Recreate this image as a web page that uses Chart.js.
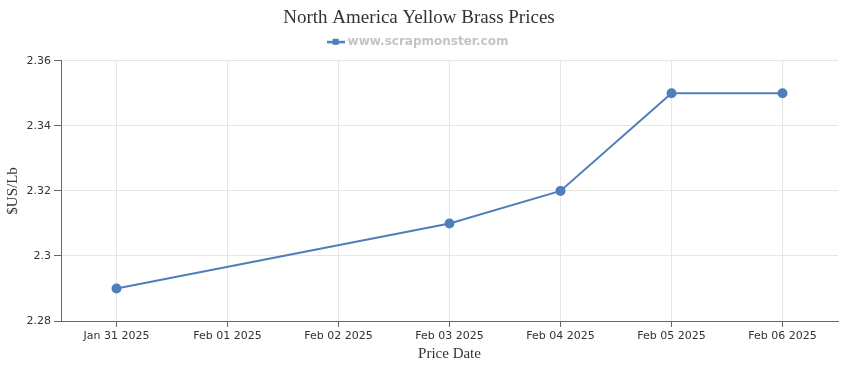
<!DOCTYPE html>
<html>
<head>
<meta charset="utf-8">
<script src="https://cdn.jsdelivr.net/npm/chart.js@4"></script>
<style>
  body { margin: 0; background: #fff; }
  #wrap { width: 850px; height: 370px; }
</style>
</head>
<body>
<div id="wrap"><canvas id="brassChart" width="850" height="370"></canvas></div>
<script>
// price dates and values ($US/Lb); null = no quote that day
const dates = ['Jan 31 2025', 'Feb 01 2025', 'Feb 02 2025', 'Feb 03 2025', 'Feb 04 2025', 'Feb 05 2025', 'Feb 06 2025'];
const prices = [2.29, null, null, 2.31, 2.32, 2.35, 2.35];
const yTicks = [2.28, 2.30, 2.32, 2.34, 2.36];

const lineColor = '#4f7fbb';

// legend marker: short line with a square in the middle
const marker = document.createElement('canvas');
marker.width = 18; marker.height = 8;
const mctx = marker.getContext('2d');
mctx.fillStyle = lineColor;
mctx.fillRect(0, 3, 18, 2.5);
mctx.fillRect(6, 1, 6, 6);

// a bit of extra space under the legend
const legendGap = {
    id: 'legendGap',
    beforeInit(chart) {
        const fit = chart.legend.fit;
        chart.legend.fit = function () { fit.call(this); this.height += 3; };
    }
};

const ctx = document.getElementById('brassChart').getContext('2d');
new Chart(ctx, {
    type: 'line',
    data: {
        labels: dates,
        datasets: [{
            label: 'www.scrapmonster.com',
            data: prices,
            borderColor: lineColor,
            backgroundColor: lineColor,
            borderWidth: 2,
            pointRadius: 4,
            pointHoverRadius: 5,
            tension: 0,
            spanGaps: true
        }]
    },
    plugins: [legendGap],
    options: {
        responsive: false,
        animation: false,
        layout: { padding: { left: 0, right: 12, top: 5, bottom: 7 } },
        plugins: {
            title: {
                display: true,
                text: 'North America Yellow Brass Prices',
                color: '#333',
                font: { family: 'Liberation Serif', size: 19, weight: 'normal' },
                padding: { top: 2, bottom: 0 }
            },
            legend: {
                labels: {
                    color: '#c4c4c4',
                    font: { family: 'DejaVu Sans', size: 12, weight: 'bold' },
                    usePointStyle: true,
                    padding: 6,
                    generateLabels: (chart) => Chart.defaults.plugins.legend.labels.generateLabels(chart)
                        .map(l => Object.assign(l, { pointStyle: marker }))
                }
            },
            tooltip: { enabled: false }
        },
        scales: {
            x: {
                offset: true,
                grid: { color: '#e6e6e6', offset: false, tickColor: '#666', tickLength: 6 },
                border: { color: '#666' },
                ticks: { color: '#333', font: { family: 'DejaVu Sans', size: 11 }, maxRotation: 0, padding: 3 },
                title: {
                    display: true, text: 'Price Date', color: '#333',
                    font: { family: 'Liberation Serif', size: 15 }, padding: { top: 0, bottom: 0 }
                },
                afterFit: (scale) => { scale.height = 42; }
            },
            y: {
                min: yTicks[0],
                max: yTicks[yTicks.length - 1],
                afterBuildTicks: (scale) => { scale.ticks = yTicks.map(v => ({ value: v })); },
                grid: { color: '#e6e6e6', tickColor: '#666', tickLength: 7 },
                border: { color: '#666' },
                ticks: {
                    color: '#333', font: { family: 'DejaVu Sans', size: 11 }, padding: 3,
                    callback: (v) => String(+v.toFixed(2))
                },
                title: {
                    display: true, text: '$US/Lb', color: '#333',
                    font: { family: 'Liberation Serif', size: 15 }, padding: { top: 4, bottom: 4 }
                },
                afterFit: (scale) => { scale.width = 61; }
            }
        }
    }
});
</script>
</body>
</html>
